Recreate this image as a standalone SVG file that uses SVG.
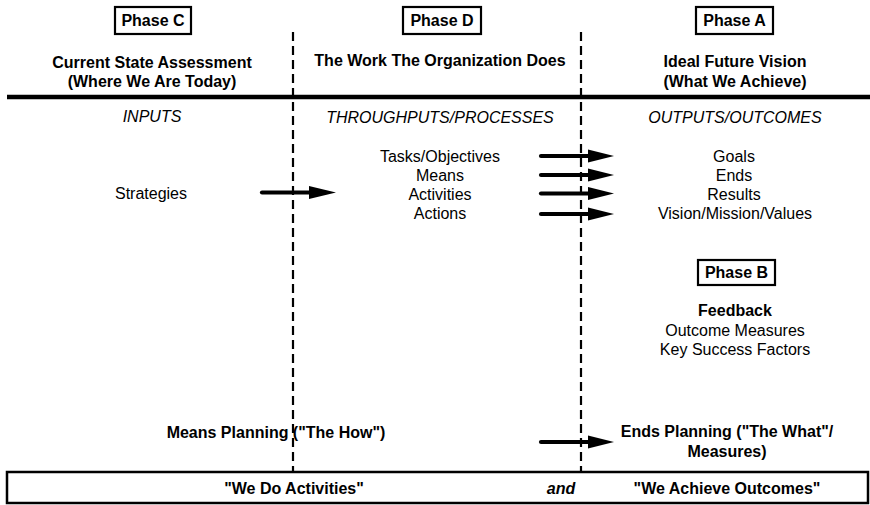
<svg xmlns="http://www.w3.org/2000/svg" width="870" height="505" viewBox="0 0 870 505">
  <defs>
    <style>
      text { font-family: "Liberation Sans", Arial, Helvetica, sans-serif; font-size: 16px; fill: #000; text-anchor: middle; }
      .b { font-weight: bold; }
      .i { font-style: italic; }
      .phase { fill: #fff; stroke: #000; stroke-width: 2.2; }
      .dash { stroke: #000; stroke-width: 2.2; stroke-dasharray: 9 5; fill: none; }
      .arrow { stroke: #000; stroke-width: 4.2; fill: none; stroke-linecap: round; }
      .head { fill: #000; }
    </style>
  </defs>

  <rect width="870" height="505" fill="#fff"/>

  <!-- column dividers and heading rule -->
  <g id="grid">
    <line class="dash" x1="293" y1="32" x2="293" y2="472"/>
    <line class="dash" x1="581" y1="32" x2="581" y2="472"/>
    <line x1="7" y1="97" x2="870" y2="97" stroke="#000" stroke-width="4.5"/>
  </g>

  <!-- Phase C column -->
  <g id="phase-c">
    <rect class="phase" x="115" y="7" width="76" height="27"/>
    <text class="b" x="153" y="26">Phase C</text>
    <text class="b" x="152" y="68">Current State Assessment</text>
    <text class="b" x="152" y="87">(Where We Are Today)</text>
    <text class="i" x="152" y="122">INPUTS</text>
    <text x="151" y="199">Strategies</text>
  </g>

  <!-- Phase D column -->
  <g id="phase-d">
    <rect class="phase" x="403" y="7" width="78" height="27"/>
    <text class="b" x="442" y="26">Phase D</text>
    <text class="b" x="440" y="66">The Work The Organization Does</text>
    <text class="i" x="440" y="123">THROUGHPUTS/PROCESSES</text>
    <text x="440" y="162">Tasks/Objectives</text>
    <text x="440" y="181">Means</text>
    <text x="440" y="200">Activities</text>
    <text x="440" y="219">Actions</text>
  </g>

  <!-- Phase A column -->
  <g id="phase-a">
    <rect class="phase" x="696" y="7" width="77" height="27"/>
    <text class="b" x="734.5" y="26">Phase A</text>
    <text class="b" x="735" y="67">Ideal Future Vision</text>
    <text class="b" x="735" y="87">(What We Achieve)</text>
    <text class="i" x="735" y="123">OUTPUTS/OUTCOMES</text>
    <text x="734" y="162">Goals</text>
    <text x="734" y="181">Ends</text>
    <text x="734" y="200">Results</text>
    <text x="735" y="219">Vision/Mission/Values</text>
  </g>

  <!-- Phase B feedback -->
  <g id="phase-b">
    <rect class="phase" x="698" y="260" width="77" height="25"/>
    <text class="b" x="736.5" y="278">Phase B</text>
    <text class="b" x="735" y="316">Feedback</text>
    <text x="735" y="336">Outcome Measures</text>
    <text x="735" y="355">Key Success Factors</text>
  </g>

  <!-- planning labels -->
  <g id="means-planning">
    <text class="b" x="276" y="438">Means Planning ("The How")</text>
  </g>
  <g id="ends-planning">
    <text class="b" x="727" y="437">Ends Planning ("The What"/</text>
    <text class="b" x="727" y="457">Measures)</text>
  </g>

  <!-- summary band -->
  <g id="summary">
    <rect x="7" y="472" width="861" height="31" fill="#fff" stroke="#000" stroke-width="2.5"/>
    <text class="b" x="294" y="494">"We Do Activities"</text>
    <text class="b i" x="561" y="494">and</text>
    <text class="b" x="727" y="494">"We Achieve Outcomes"</text>
  </g>

  <!-- connectors -->
  <g id="connectors">
    <line class="arrow" x1="262" y1="192.5" x2="312" y2="192.5"/>
    <path class="head" d="M309 186 L336 192.5 L309 199 Z"/>

    <line class="arrow" x1="541" y1="156" x2="591" y2="156"/>
    <path class="head" d="M588 149.5 L614 156 L588 162.5 Z"/>

    <line class="arrow" x1="541" y1="175" x2="591" y2="175"/>
    <path class="head" d="M588 168.5 L614 175 L588 181.5 Z"/>

    <line class="arrow" x1="541" y1="193.5" x2="591" y2="193.5"/>
    <path class="head" d="M588 187 L614 193.5 L588 200 Z"/>

    <line class="arrow" x1="541" y1="214" x2="591" y2="214"/>
    <path class="head" d="M588 207.5 L614 214 L588 220.5 Z"/>

    <line class="arrow" x1="541" y1="442" x2="591" y2="442"/>
    <path class="head" d="M588 435.5 L614 442 L588 448.5 Z"/>
  </g>
</svg>
